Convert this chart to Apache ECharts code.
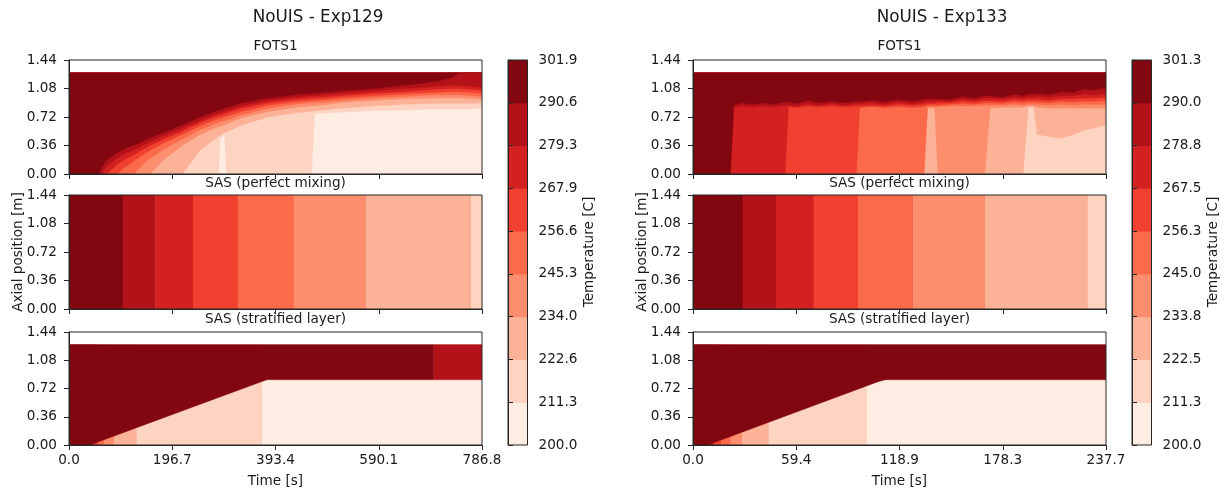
<!DOCTYPE html>
<html>
<head>
<meta charset="utf-8">
<script src="https://cdn.jsdelivr.net/npm/echarts@6/dist/echarts.min.js"></script>
<style>
  html, body { margin: 0; padding: 0; background: #ffffff; }
  #chart { width: 1227px; height: 492px; }
</style>
</head>
<body>
<div id="chart"></div>
<script>
// ---------------------------------------------------------------------------
// Data
// ---------------------------------------------------------------------------

// Filled contour colours, one per temperature band (coolest -> hottest)
const bandColors = ['#ffece3', '#fdd4c2', '#fcb297', '#fc8e6e', '#fb6a4a',
                    '#f0402f', '#d32020', '#b21218', '#830711'];

// Colour-bar level labels [C]
const exp129Levels = ['200.0', '211.3', '222.6', '234.0', '245.3', '256.6', '267.9', '279.3', '290.6', '301.9'];
const exp133Levels = ['200.0', '211.3', '222.5', '233.8', '245.0', '256.3', '267.5', '278.8', '290.0', '301.3'];

// Axis tick labels
const exp129TimeTicks = ['0.0', '196.7', '393.4', '590.1', '786.8'];
const exp133TimeTicks = ['0.0', '59.4', '118.9', '178.3', '237.7'];
const heightTicks = ['0.00', '0.36', '0.72', '1.08', '1.44'];

const exp129TimeEnd = 786.8;
const exp133TimeEnd = 237.7;
const columnTop = 1.28;     // top of the measured column [m]
const heightMax = 1.44;

// FOTS1 fields: each row = [time s, edge1 .. edge8]
// edge k = height [m] at which band k starts (band 0 below edge1, band 8 above edge8)
const exp129FotsRows = [
  [0,     0,    0,    0,    0,    0,    0,    0,    0   ],
  [57,    0,    0,    0,    0,    0,    0,    0,    0   ],
  [62,    0,    0,    0,    0,    0,    0,    0,    0.08],
  [72,    0,    0,    0,    0,    0,    0,    0.10, 0.18],
  [91,    0,    0,    0,    0,    0,    0.12, 0.20, 0.27],
  [110,   0,    0,    0,    0,    0.10, 0.20, 0.27, 0.33],
  [125,   0,    0,    0,    0,    0.17, 0.25, 0.31, 0.37],
  [140,   0,    0,    0,    0.12, 0.24, 0.31, 0.36, 0.41],
  [155,   0,    0,    0,    0.20, 0.30, 0.36, 0.41, 0.46],
  [180,   0,    0,    0.18, 0.31, 0.39, 0.44, 0.48, 0.52],
  [216,   0,    0,    0.36, 0.44, 0.50, 0.54, 0.58, 0.62],
  [250,   0,    0.30, 0.50, 0.56, 0.61, 0.65, 0.68, 0.72],
  [285,   0,    0.48, 0.60, 0.65, 0.70, 0.74, 0.77, 0.81],
  [288,   0.45, 0.49, 0.60, 0.66, 0.70, 0.74, 0.77, 0.81],
  [296,   0.50, 0.52, 0.62, 0.67, 0.72, 0.76, 0.79, 0.83],
  [300,   0,    0.53, 0.63, 0.68, 0.73, 0.77, 0.80, 0.84],
  [330,   0,    0.62, 0.71, 0.75, 0.79, 0.83, 0.86, 0.90],
  [380,   0,    0.72, 0.79, 0.83, 0.87, 0.90, 0.93, 0.96],
  [430,   0,    0.77, 0.84, 0.88, 0.91, 0.94, 0.97, 1.00],
  [462,   0,    0.79, 0.86, 0.90, 0.93, 0.96, 0.99, 1.02],
  [468,   0.76, 0.80, 0.86, 0.90, 0.93, 0.96, 0.99, 1.02],
  [520,   0.78, 0.83, 0.90, 0.93, 0.96, 0.99, 1.02, 1.05],
  [580,   0.80, 0.86, 0.93, 0.96, 0.99, 1.02, 1.05, 1.08],
  [640,   0.81, 0.88, 0.95, 0.98, 1.01, 1.04, 1.08, 1.12],
  [700,   0.82, 0.89, 0.96, 1.00, 1.03, 1.07, 1.11, 1.17],
  [730,   0.82, 0.89, 0.96, 1.00, 1.04, 1.08, 1.12, 1.22],
  [743,   0.82, 0.89, 0.96, 1.00, 1.04, 1.08, 1.12, 1.28],
  [765,   0.82, 0.89, 0.95, 0.99, 1.03, 1.07, 1.11, 1.28],
  [786.8, 0.83, 0.90, 0.95, 0.98, 1.02, 1.06, 1.10, 1.28]
];

const exp133FotsRows = [
  [0,     0,    0,    0,    0,    0,    0,    0,    0   ],
  [21.5,  0,    0,    0,    0,    0,    0,    0,    0   ],
  [23.5,  0,    0,    0,    0,    0,    0,    0.84, 0.87],
  [28,    0,    0,    0,    0,    0,    0,    0.86, 0.90],
  [34,    0,    0,    0,    0,    0,    0,    0.85, 0.88],
  [40,    0,    0,    0,    0,    0,    0,    0.86, 0.90],
  [46,    0,    0,    0,    0,    0,    0,    0.85, 0.88],
  [53,    0,    0,    0,    0,    0,    0,    0.87, 0.91],
  [55,    0,    0,    0,    0,    0,    0.85, 0.87, 0.91],
  [60,    0,    0,    0,    0,    0,    0.84, 0.86, 0.89],
  [66,    0,    0,    0,    0,    0,    0.86, 0.89, 0.93],
  [72,    0,    0,    0,    0,    0,    0.85, 0.87, 0.90],
  [80,    0,    0,    0,    0,    0,    0.86, 0.89, 0.92],
  [87,    0,    0,    0,    0,    0,    0.85, 0.87, 0.90],
  [94,    0,    0,    0,    0,    0,    0.86, 0.89, 0.92],
  [96,    0,    0,    0,    0,    0.84, 0.86, 0.89, 0.92],
  [103,   0,    0,    0,    0,    0.85, 0.87, 0.90, 0.93],
  [110,   0,    0,    0,    0,    0.84, 0.86, 0.88, 0.91],
  [118,   0,    0,    0,    0,    0.85, 0.88, 0.91, 0.94],
  [126,   0,    0,    0,    0,    0.84, 0.87, 0.89, 0.92],
  [133,   0,    0,    0,    0,    0.85, 0.88, 0.91, 0.94],
  [135,   0,    0,    0.83, 0.85, 0.87, 0.89, 0.92, 0.95],
  [139,   0,    0,    0.83, 0.85, 0.87, 0.89, 0.92, 0.95],
  [141,   0,    0,    0,    0.85, 0.87, 0.90, 0.93, 0.95],
  [148,   0,    0,    0,    0.86, 0.88, 0.90, 0.92, 0.94],
  [155,   0,    0,    0,    0.86, 0.89, 0.92, 0.95, 0.98],
  [162,   0,    0,    0,    0.86, 0.88, 0.91, 0.93, 0.96],
  [168,   0,    0,    0,    0.87, 0.90, 0.93, 0.96, 0.99],
  [171,   0,    0,    0.83, 0.87, 0.90, 0.93, 0.96, 0.99],
  [178,   0,    0,    0.84, 0.87, 0.89, 0.92, 0.95, 0.97],
  [185,   0,    0,    0.84, 0.88, 0.91, 0.94, 0.97, 1.01],
  [190,   0,    0,    0.84, 0.87, 0.90, 0.93, 0.96, 0.99],
  [193,   0,    0.84, 0.86, 0.88, 0.91, 0.94, 0.97, 1.01],
  [196,   0,    0.84, 0.86, 0.88, 0.91, 0.94, 0.97, 1.01],
  [198,   0,    0.50, 0.84, 0.88, 0.91, 0.94, 0.98, 1.02],
  [205,   0,    0.47, 0.83, 0.87, 0.90, 0.93, 0.97, 1.00],
  [212,   0,    0.45, 0.83, 0.88, 0.92, 0.95, 0.99, 1.04],
  [219,   0,    0.50, 0.83, 0.87, 0.91, 0.95, 0.99, 1.03],
  [225,   0,    0.55, 0.83, 0.88, 0.92, 0.96, 1.01, 1.07],
  [231,   0,    0.58, 0.83, 0.88, 0.92, 0.96, 1.00, 1.06],
  [237.7, 0,    0.62, 0.83, 0.88, 0.93, 0.97, 1.02, 1.09]
];

// SAS perfect mixing: [start s, end s, band]
const exp129MixStrips = [
  [0, 102.5, 8], [102.5, 164.3, 7], [164.3, 235.9, 6], [235.9, 321.5, 5],
  [321.5, 428, 4], [428, 566, 3], [566, 766, 2], [766, 786.8, 1]
];
const exp133MixStrips = [
  [0, 28.6, 8], [28.6, 47.8, 7], [47.8, 69.4, 6], [69.4, 95.1, 5],
  [95.1, 126.7, 4], [126.7, 168.1, 3], [168.1, 227.2, 2], [227.2, 237.7, 1]
];

// SAS stratified layer: cold-side strips [start s, end s, band],
// hot/cold interface [time s, height m], hot layer bands [start s, end s, band]
const exp129StratStrips = [
  [0, 40, 8], [40, 47, 6], [47, 55, 5], [55, 67, 4], [67, 86, 3],
  [86, 129, 2], [129, 368, 1], [368, 786.8, 0]
];
const exp129Interface = [[0, 0], [40, 0], [368, 0.81], [378, 0.83], [695, 0.83], [786.8, 0.83]];
const exp129HotLayer = [[0, 695, 8], [695, 786.8, 7]];

const exp133StratStrips = [
  [0, 8.8, 8], [8.8, 12, 6], [12, 16, 5], [16, 21.6, 4], [21.6, 28.3, 3],
  [28.3, 43.5, 2], [43.5, 100.1, 1], [100.1, 237.7, 0]
];
const exp133Interface = [[0, 0], [8.5, 0], [107, 0.81], [111, 0.83], [237.7, 0.83]];
const exp133HotLayer = [[0, 237.7, 8]];

// ---------------------------------------------------------------------------
// Layout
// ---------------------------------------------------------------------------
const FONT = 'DejaVu Sans';
const INK = '#1a1a1a';
const FRAME = '#262626';
const TICK_FS = 13.6;

const panels = [
  { left: 69,  timeEnd: exp129TimeEnd, timeTicks: exp129TimeTicks, levels: exp129Levels,
    fots: exp129FotsRows, mix: exp129MixStrips,
    strat: exp129StratStrips, iface: exp129Interface, hot: exp129HotLayer,
    title: 'NoUIS - Exp129' },
  { left: 693, timeEnd: exp133TimeEnd, timeTicks: exp133TimeTicks, levels: exp133Levels,
    fots: exp133FotsRows, mix: exp133MixStrips,
    strat: exp133StratStrips, iface: exp133Interface, hot: exp133HotLayer,
    title: 'NoUIS - Exp133' }
];
const plotWidth = 413;
const rowTops = [60, 195, 332];
const rowHeights = [114, 114, 113];
const rowTitles = ['FOTS1', 'SAS (perfect mixing)', 'SAS (stratified layer)'];
const cbarOffset = 439;   // colour bar left edge relative to plot left
const cbarWidth = 19.5;

const grids = [], xAxes = [], yAxes = [], series = [], graphics = [];

function polygonFromLines(api, upper, lower) {
  const pts = upper.map(p => api.coord(p));
  for (let i = lower.length - 1; i >= 0; i--) pts.push(api.coord(lower[i]));
  return pts;
}

// interface nodes between two times (inclusive)
function ifaceSpan(iface, t0, t1) {
  return iface.filter(p => p[0] >= t0 - 1e-9 && p[0] <= t1 + 1e-9);
}

panels.forEach((P, pi) => {
  const interval = P.timeEnd / 4;
  rowTops.forEach((top, ri) => {
    const gi = grids.length;
    grids.push({
      left: P.left, top: top, width: plotWidth, height: rowHeights[ri],
      show: true, borderColor: FRAME, borderWidth: 1, backgroundColor: 'transparent', z: 5
    });
    xAxes.push({
      gridIndex: gi, type: 'value', min: 0, max: P.timeEnd, interval: interval,
      axisLine: { show: true, lineStyle: { color: FRAME, width: 1 } },
      axisTick: { show: true, length: 5, lineStyle: { color: FRAME, width: 1 } },
      axisLabel: {
        show: ri === 2, margin: 8, color: INK, fontFamily: FONT, fontSize: TICK_FS,
        formatter: v => P.timeTicks[Math.round(v / interval)]
      },
      splitLine: { show: false }, z: 6
    });
    yAxes.push({
      gridIndex: gi, type: 'value', min: 0, max: heightMax, interval: 0.36,
      axisLine: { show: true, lineStyle: { color: FRAME, width: 1 } },
      axisTick: { show: true, length: 5, lineStyle: { color: FRAME, width: 1 } },
      axisLabel: {
        show: true, margin: 12, color: INK, fontFamily: FONT, fontSize: TICK_FS,
        formatter: v => heightTicks[Math.round(v / 0.36)]
      },
      splitLine: { show: false }, z: 6
    });

    if (ri === 0) {
      // FOTS1: band k painted from its lower edge to the column top, hottest last
      const rows = P.fots;
      series.push({
        type: 'custom', xAxisIndex: gi, yAxisIndex: gi, clip: true, silent: true,
        data: [0, 1, 2, 3, 4, 5, 6, 7, 8].map(k => [k]),
        renderItem: (params, api) => {
          const k = api.value(0);
          const upper = rows.map(r => [r[0], columnTop]);
          const lower = rows.map(r => [r[0], k === 0 ? 0 : r[k]]);
          return { type: 'polygon', z2: k,
                   shape: { points: polygonFromLines(api, upper, lower) },
                   style: { fill: bandColors[k], stroke: bandColors[k], lineWidth: 0.3 } };
        }
      });
    } else if (ri === 1) {
      const strips = P.mix;
      series.push({
        type: 'custom', xAxisIndex: gi, yAxisIndex: gi, clip: true, silent: true,
        data: strips,
        renderItem: (params, api) => {
          const a = api.coord([api.value(0), heightMax]);
          const b = api.coord([api.value(1), 0]);
          const k = api.value(2);
          return { type: 'rect',
                   shape: { x: a[0], y: a[1], width: b[0] - a[0] + 0.5, height: b[1] - a[1] },
                   style: { fill: bandColors[k] } };
        }
      });
    } else {
      const strips = P.strat, iface = P.iface, hot = P.hot;
      series.push({
        type: 'custom', xAxisIndex: gi, yAxisIndex: gi, clip: true, silent: true,
        data: strips,
        renderItem: (params, api) => {
          const a = api.coord([api.value(0), columnTop]);
          const b = api.coord([api.value(1), 0]);
          const k = api.value(2);
          return { type: 'rect', z2: 1,
                   shape: { x: a[0], y: a[1], width: b[0] - a[0] + 0.5, height: b[1] - a[1] },
                   style: { fill: bandColors[k] } };
        }
      });
      series.push({
        type: 'custom', xAxisIndex: gi, yAxisIndex: gi, clip: true, silent: true, z: 3,
        data: hot,
        renderItem: (params, api) => {
          const t0 = api.value(0), t1 = api.value(1), k = api.value(2);
          const lower = ifaceSpan(iface, t0, t1);
          const upper = lower.map(p => [p[0], columnTop]);
          return { type: 'polygon',
                   shape: { points: polygonFromLines(api, upper, lower) },
                   style: { fill: bandColors[k], stroke: bandColors[k], lineWidth: 0.3 } };
        }
      });
    }
  });

  // colour bar
  const gi = grids.length;
  grids.push({
    left: P.left + cbarOffset, top: rowTops[0], width: cbarWidth,
    height: rowTops[2] + rowHeights[2] - rowTops[0],
    show: true, borderColor: FRAME, borderWidth: 1, backgroundColor: 'transparent', z: 5
  });
  xAxes.push({ gridIndex: gi, type: 'value', min: 0, max: 1, show: false });
  yAxes.push({
    gridIndex: gi, type: 'value', min: 0, max: 9, interval: 1, position: 'right',
    axisLine: { show: true, lineStyle: { color: FRAME, width: 1 } },
    axisTick: { show: true, length: 5, lineStyle: { color: FRAME, width: 1 } },
    axisLabel: {
      show: true, margin: 11, color: INK, fontFamily: FONT, fontSize: TICK_FS,
      formatter: v => P.levels[v]
    },
    splitLine: { show: false }, z: 6
  });
  series.push({
    type: 'custom', xAxisIndex: gi, yAxisIndex: gi, silent: true,
    data: [0, 1, 2, 3, 4, 5, 6, 7, 8].map(k => [k]),
    renderItem: (params, api) => {
      const k = api.value(0);
      const a = api.coord([0, k + 1]);
      const b = api.coord([1, k]);
      return { type: 'rect', shape: { x: a[0], y: a[1], width: b[0] - a[0], height: b[1] - a[1] + 0.5 },
               style: { fill: bandColors[k] } };
    }
  });

  // texts
  const cx = P.left + plotWidth / 2;
  graphics.push({ type: 'text', x: P.left + 249, y: 18,
    style: { text: P.title, fontFamily: FONT, fontSize: 16.8, fill: INK, align: 'center', verticalAlign: 'middle' } });
  [46.5, 183, 319.5].forEach((y, i) => graphics.push({ type: 'text', x: cx, y: y,
    style: { text: rowTitles[i], fontFamily: FONT, fontSize: TICK_FS, fill: INK, align: 'center', verticalAlign: 'middle' } }));
  graphics.push({ type: 'text', x: cx, y: 481.5,
    style: { text: 'Time [s]', fontFamily: FONT, fontSize: TICK_FS, fill: INK, align: 'center', verticalAlign: 'middle' } });
  graphics.push({ type: 'text', x: P.left - 50.5, y: 252, rotation: Math.PI / 2,
    style: { text: 'Axial position [m]', fontFamily: FONT, fontSize: TICK_FS, fill: INK, align: 'center', verticalAlign: 'middle' } });
  graphics.push({ type: 'text', x: P.left + 520, y: 252, rotation: Math.PI / 2,
    style: { text: 'Temperature [C]', fontFamily: FONT, fontSize: TICK_FS, fill: INK, align: 'center', verticalAlign: 'middle' } });
});

const chart = echarts.init(document.getElementById('chart'), null, { renderer: 'canvas' });
chart.setOption({
  animation: false,
  backgroundColor: '#ffffff',
  grid: grids,
  xAxis: xAxes,
  yAxis: yAxes,
  series: series,
  graphic: graphics
});
</script>
</body>
</html>
